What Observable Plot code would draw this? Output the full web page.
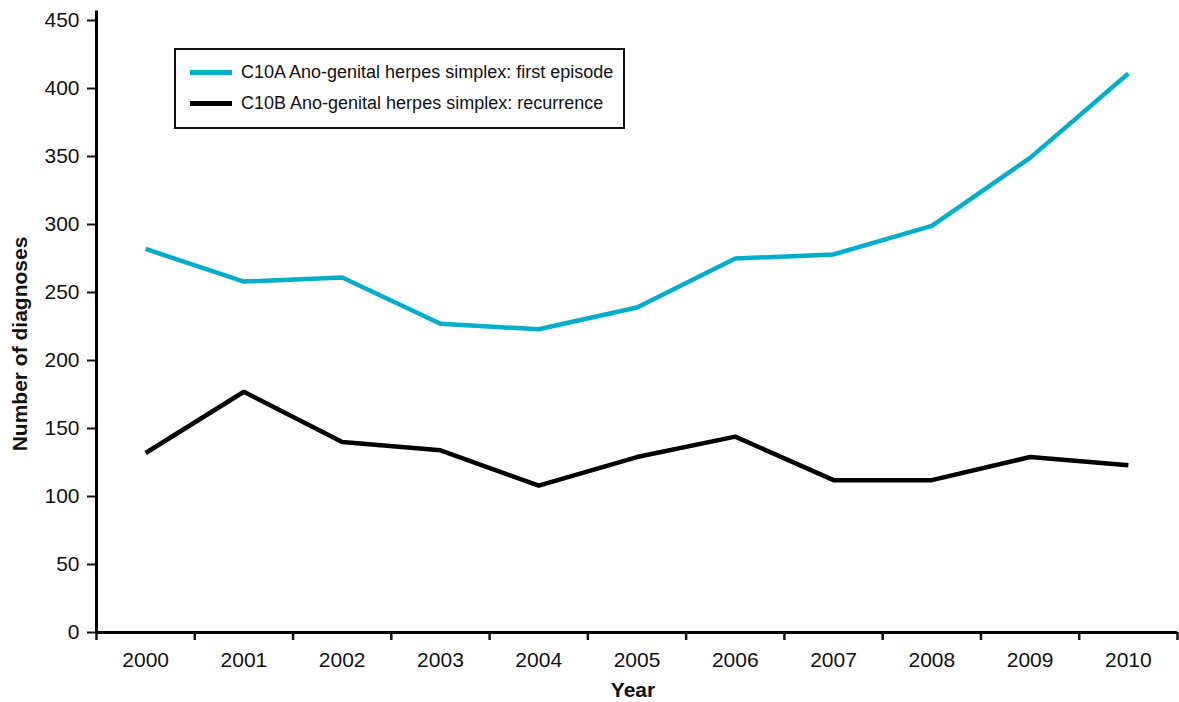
<!DOCTYPE html>
<html>
<head>
<meta charset="utf-8">
<script src="https://cdn.jsdelivr.net/npm/d3@7"></script>
<script src="https://cdn.jsdelivr.net/npm/@observablehq/plot@0.6"></script>
<style>
  html, body { margin: 0; padding: 0; background: #fff; }
  #wrap { position: relative; width: 1179px; height: 702px; font-family: "Liberation Sans", Arial, sans-serif; }
  #legend { position: absolute; left: 174px; top: 48px; width: 447px; height: 77px; border: 2px solid #111; background: #fff; }
  .item { position: absolute; left: 14px; display: flex; align-items: center; font-size: 18px; color: #111; white-space: nowrap; }
  .sw { width: 42px; height: 5px; margin-right: 9px; }
</style>
</head>
<body>
<div id="wrap"></div>
<script>
const years = [2000, 2001, 2002, 2003, 2004, 2005, 2006, 2007, 2008, 2009, 2010];
const firstEpisode = [282, 258, 261, 227, 223, 239, 275, 278, 299, 349, 411];
const recurrence = [132, 177, 140, 134, 108, 129, 144, 112, 112, 129, 123];
const seriesNames = ["C10A Ano-genital herpes simplex: first episode", "C10B Ano-genital herpes simplex: recurrence"];
const seriesColors = ["#00aecb", "#000000"];
const yTicks = [0, 50, 100, 150, 200, 250, 300, 350, 400, 450];

const rows = [];
years.forEach((yr, i) => {
  rows.push({year: yr, value: firstEpisode[i], series: seriesNames[0]});
  rows.push({year: yr, value: recurrence[i], series: seriesNames[1]});
});
const boundaries = years.map(y => y - 0.5).concat([years[years.length - 1] + 0.5]);

const font = "'Liberation Sans', Arial, sans-serif";
const chart = Plot.plot({
  width: 1179,
  height: 702,
  marginLeft: 96,
  marginRight: 2,
  marginTop: 20,
  marginBottom: 70,
  style: {fontFamily: font, fontSize: "21px", color: "#111", background: "#fff"},
  x: {type: "linear", domain: [boundaries[0], boundaries[boundaries.length - 1]]},
  y: {domain: [0, 450]},
  color: {domain: seriesNames, range: seriesColors},
  marks: [
    Plot.axisY({ticks: yTicks, tickSize: 9, tickPadding: 8, strokeWidth: 2, fontSize: 21, label: null}),
    Plot.axisX({ticks: boundaries, tickSize: 8, strokeWidth: 2.5, tickFormat: () => "", label: null}),
    Plot.axisX({ticks: years, tickSize: 0, tickPadding: 20, tickFormat: d => String(d), fontSize: 21, label: null}),
    Plot.ruleX([boundaries[0]], {y1: 0, y2: 457, stroke: "#000", strokeWidth: 3}),
    Plot.ruleY([0], {stroke: "#000", strokeWidth: 3}),
    Plot.line(rows, {x: "year", y: "value", z: "series", stroke: "series", strokeWidth: 4.5, strokeLinejoin: "miter", strokeLinecap: "butt"})
  ]
});

const svg = d3.select(chart);
svg.append("text")
  .attr("x", 633).attr("y", 697)
  .attr("text-anchor", "middle")
  .attr("font-family", font).attr("font-weight", "bold").attr("font-size", 21)
  .attr("fill", "#111")
  .text("Year");
svg.append("text")
  .attr("transform", "translate(27,344) rotate(-90)")
  .attr("text-anchor", "middle")
  .attr("font-family", font).attr("font-weight", "bold").attr("font-size", 21)
  .attr("fill", "#111")
  .text("Number of diagnoses");

const wrap = document.getElementById("wrap");
wrap.appendChild(chart);

const legend = document.createElement("div");
legend.id = "legend";
seriesNames.forEach((name, i) => {
  const item = document.createElement("div");
  item.className = "item";
  item.style.top = (i === 0 ? 12 : 43) + "px";
  const sw = document.createElement("span");
  sw.className = "sw";
  sw.style.background = seriesColors[i];
  const label = document.createElement("span");
  label.textContent = name;
  item.appendChild(sw);
  item.appendChild(label);
  legend.appendChild(item);
});
wrap.appendChild(legend);
</script>
</body>
</html>
